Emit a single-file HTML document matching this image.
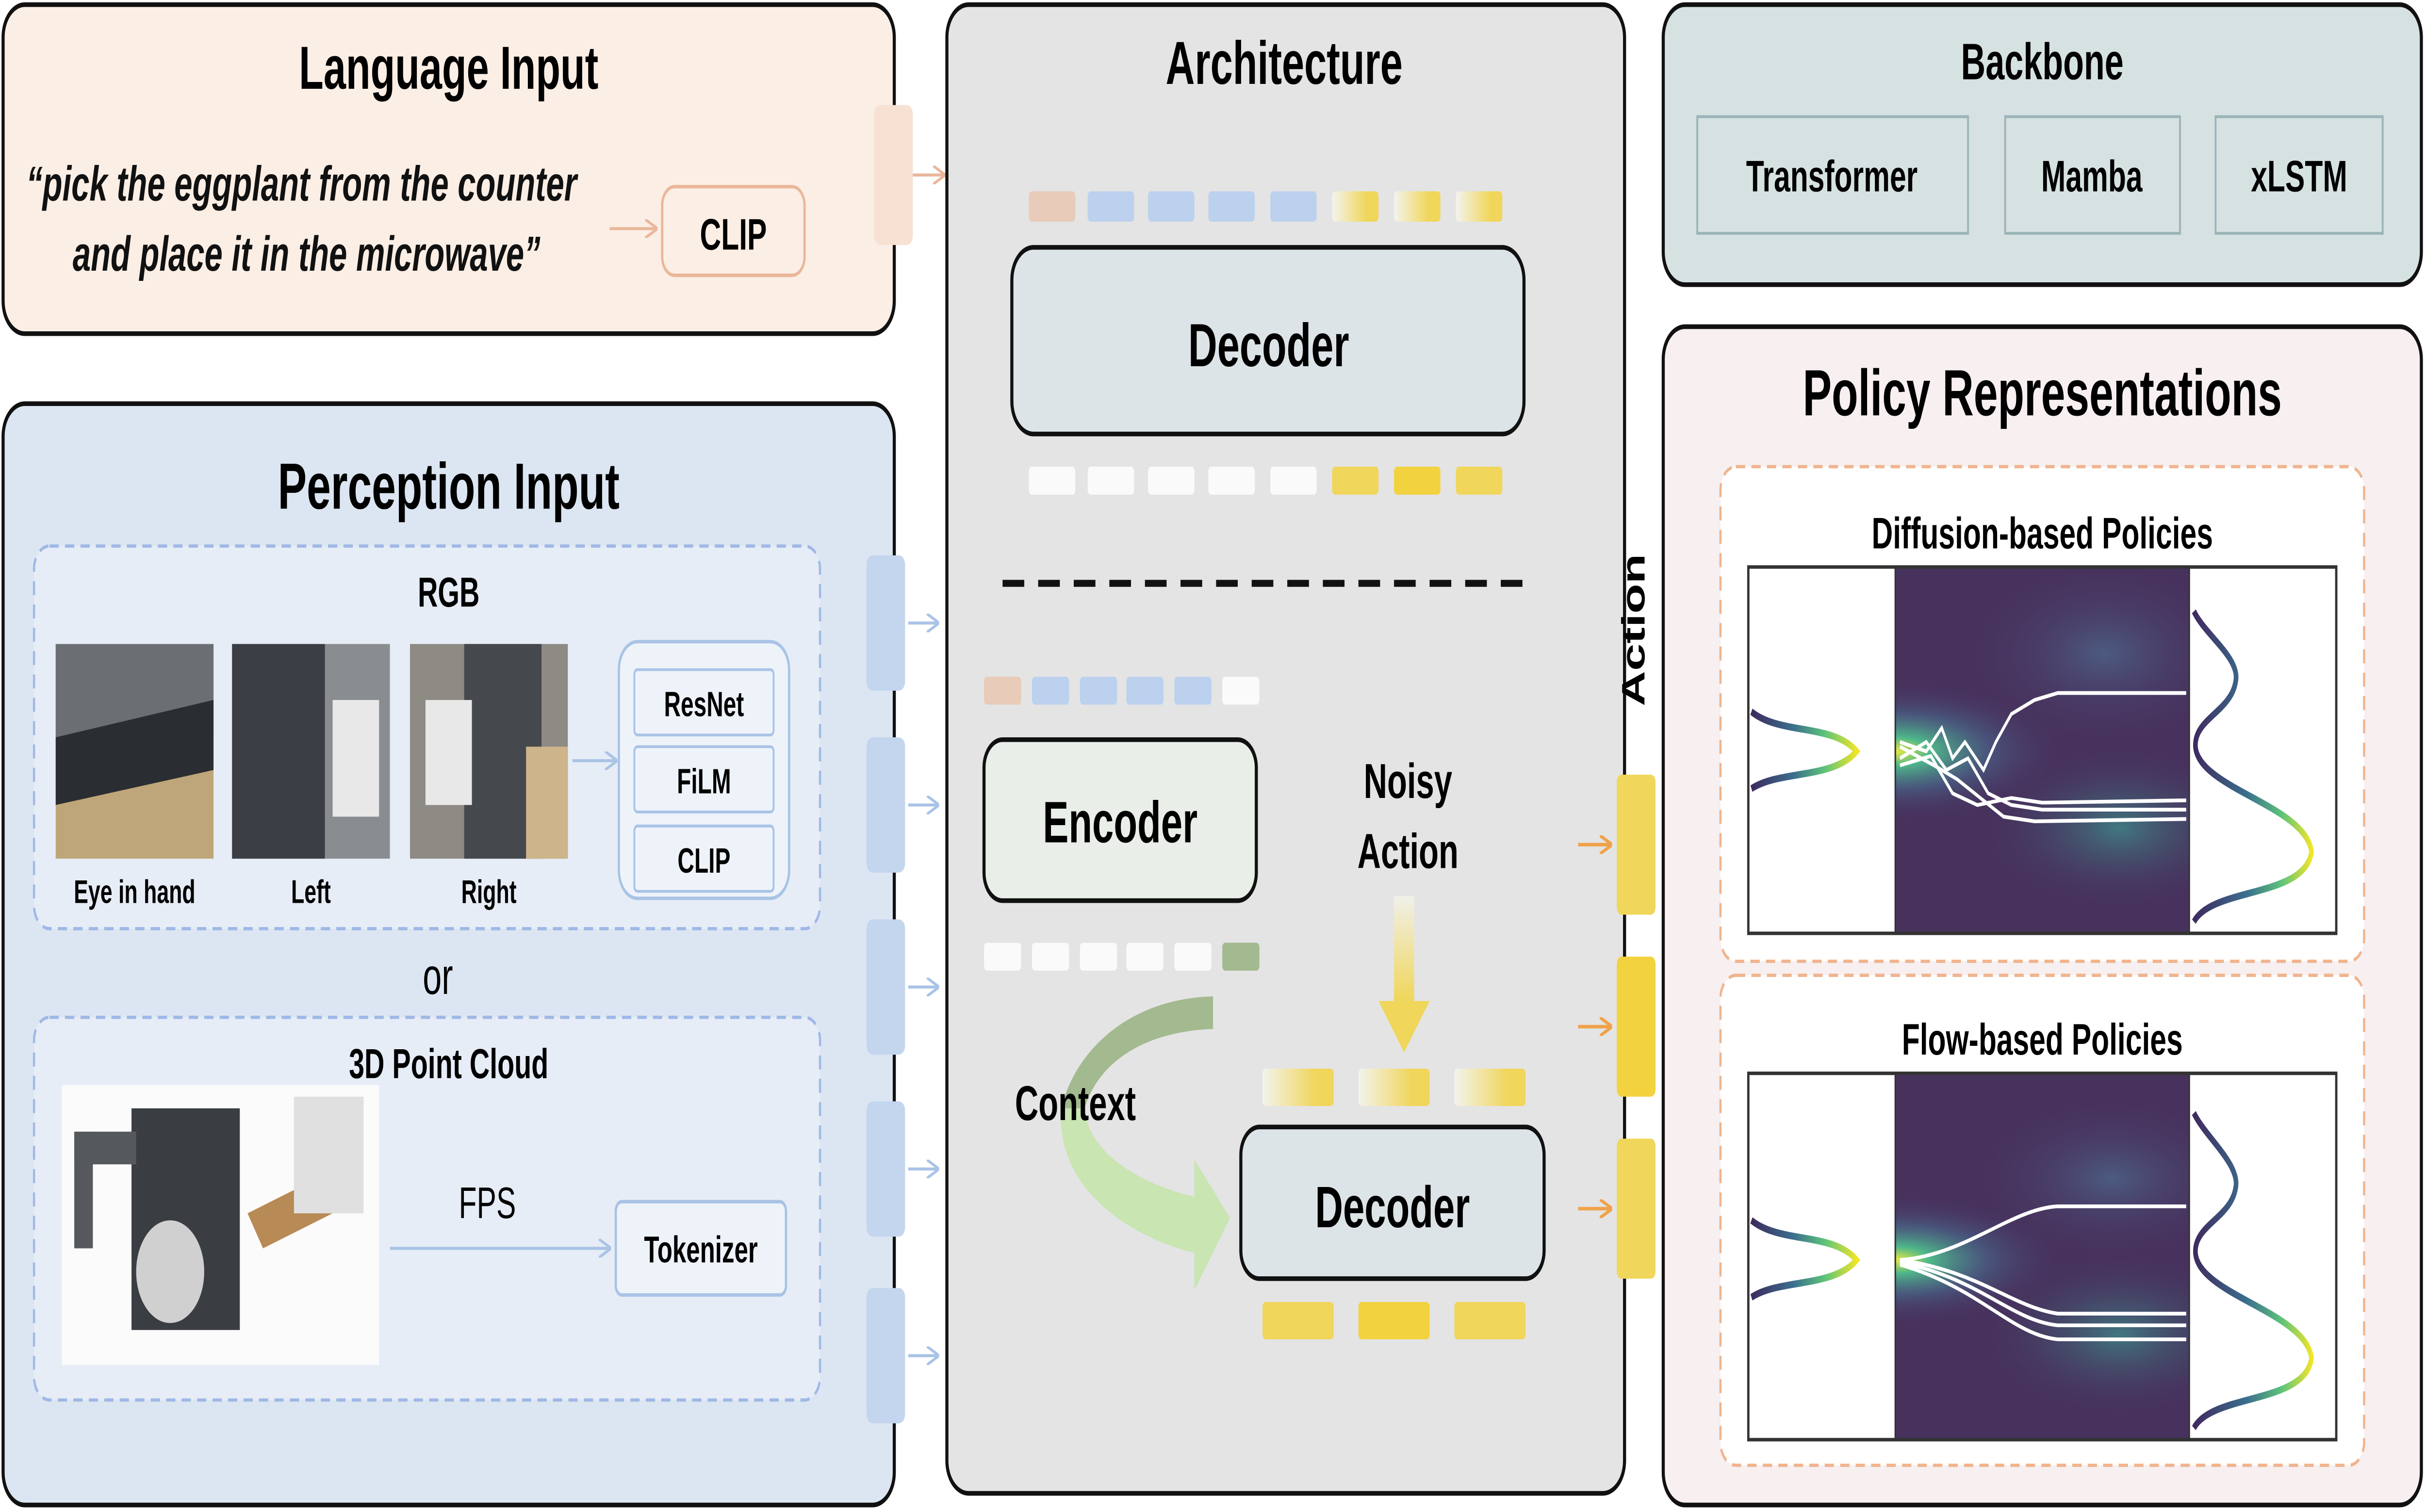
<!DOCTYPE html>
<html><head><meta charset="utf-8"><style>
html,body{margin:0;padding:0;background:#fff;width:100%;height:100%;overflow:hidden;}
svg{display:block;width:100vw;height:100vh;position:fixed;left:0;top:0;}
text{font-family:"Liberation Sans",Arial,sans-serif;}
</style></head><body>
<svg viewBox="0 0 1568 648" preserveAspectRatio="none" xmlns="http://www.w3.org/2000/svg">
<defs>
<linearGradient id="yg" x1="0" x2="1" y1="0" y2="0"><stop offset="0" stop-color="#f3f3ee"/><stop offset="0.75" stop-color="#f0d65a"/><stop offset="1" stop-color="#f0d65a"/></linearGradient>
<linearGradient id="yv" x1="0" x2="0" y1="0" y2="1"><stop offset="0" stop-color="#f0f0ea"/><stop offset="1" stop-color="#f0d65a"/></linearGradient>
<linearGradient id="vir" x1="0" x2="1" y1="0" y2="0"><stop offset="0" stop-color="#3e2a5e"/><stop offset="0.4" stop-color="#3b6f8e"/><stop offset="0.7" stop-color="#5ec47a"/><stop offset="1" stop-color="#f0e52a"/></linearGradient>
<linearGradient id="vir2" x1="0" x2="1" y1="0" y2="0"><stop offset="0" stop-color="#3e2a5e"/><stop offset="0.45" stop-color="#3b6f8e"/><stop offset="0.75" stop-color="#5ec47a"/><stop offset="1" stop-color="#f0e52a"/></linearGradient>
<radialGradient id="glow1" cx="0.5" cy="0.5" r="0.5"><stop offset="0" stop-color="#e8ea40"/><stop offset="0.2" stop-color="#4fb88a"/><stop offset="0.55" stop-color="#4a6a8e" stop-opacity="0.6"/><stop offset="1" stop-color="#47325f" stop-opacity="0"/></radialGradient>
<radialGradient id="blob" cx="0.5" cy="0.5" r="0.5"><stop offset="0" stop-color="#4f6d91" stop-opacity="0.7"/><stop offset="1" stop-color="#47325d" stop-opacity="0"/></radialGradient>
<radialGradient id="blob2" cx="0.5" cy="0.5" r="0.5"><stop offset="0" stop-color="#3f8a8a" stop-opacity="0.8"/><stop offset="1" stop-color="#47325d" stop-opacity="0"/></radialGradient>
<clipPath id="c1"><rect x="1225" y="243" width="190" height="157"/></clipPath>
<clipPath id="c2"><rect x="1225" y="460" width="190" height="157"/></clipPath>
<marker id="ab" markerWidth="8" markerHeight="8" refX="7" refY="4" orient="auto" markerUnits="userSpaceOnUse"><path d="M0,0 L8,4 L0,8" fill="none" stroke="#a9c3e6" stroke-width="1.3"/></marker>
<marker id="ao" markerWidth="8" markerHeight="8" refX="7" refY="4" orient="auto" markerUnits="userSpaceOnUse"><path d="M0,0 L8,4 L0,8" fill="none" stroke="#f0a24a" stroke-width="1.5"/></marker>
<marker id="ap" markerWidth="8" markerHeight="8" refX="7" refY="4" orient="auto" markerUnits="userSpaceOnUse"><path d="M0,0 L8,4 L0,8" fill="none" stroke="#eab79a" stroke-width="1.3"/></marker>
</defs>

<rect x="2" y="2" width="576" height="141" rx="14" fill="#fbeee5" stroke="#111" stroke-width="2"/>
<text x="290" y="38" font-size="26" font-weight="bold" text-anchor="middle">Language Input</text>
<text x="17" y="86" font-size="21" font-weight="bold" font-style="italic" fill="#111">“pick the eggplant from the counter</text>
<text x="47" y="116" font-size="21" font-weight="bold" font-style="italic" fill="#111">and place it in the microwave”</text>
<line x1="394" y1="98" x2="424" y2="98" stroke="#eab79a" stroke-width="1.3" marker-end="url(#ap)"/>
<rect x="428" y="80" width="92" height="38" rx="8" fill="#fbeee5" stroke="#eab79a" stroke-width="1.5"/>
<text x="474" y="107" font-size="19" font-weight="bold" text-anchor="middle">CLIP</text>

<rect x="2" y="173" width="576" height="472" rx="14" fill="#dce6f2" stroke="#111" stroke-width="2"/>
<text x="290" y="218" font-size="28" font-weight="bold" text-anchor="middle">Perception Input</text>
<rect x="22" y="234" width="508" height="164" rx="10" fill="#e6edf6" stroke="#a0b8e6" stroke-width="1.4" stroke-dasharray="6,4"/>
<text x="290" y="260" font-size="18" font-weight="bold" text-anchor="middle">RGB</text>
<rect x="36" y="276" width="102" height="92" fill="#bfa57a"/>
<rect x="36" y="276" width="102" height="40" fill="#6b6f74"/>
<polygon points="36,316 138,300 138,330 36,345" fill="#2a2d31"/>
<rect x="150" y="276" width="102" height="92" fill="#8a8d90"/>
<rect x="150" y="276" width="60" height="92" fill="#3b3f45"/>
<rect x="215" y="300" width="30" height="50" fill="#e8e8e8"/>
<rect x="265" y="276" width="102" height="92" fill="#8e8a84"/>
<rect x="300" y="276" width="50" height="92" fill="#45484c"/>
<rect x="275" y="300" width="30" height="45" fill="#e8e8e8"/>
<rect x="340" y="320" width="27" height="48" fill="#cdb48a"/>
<text x="87" y="387" font-size="14" font-weight="bold" text-anchor="middle">Eye in hand</text>
<text x="201" y="387" font-size="14" font-weight="bold" text-anchor="middle">Left</text>
<text x="316" y="387" font-size="14" font-weight="bold" text-anchor="middle">Right</text>
<line x1="370" y1="326" x2="398" y2="326" stroke="#a9c3e6" stroke-width="1.3" marker-end="url(#ab)"/>
<rect x="400" y="275" width="110" height="110" rx="12" fill="#eef3fa" stroke="#a9c3e6" stroke-width="1.5"/>
<rect x="410" y="287" width="90" height="28" rx="2" fill="#eef3fa" stroke="#a9c3e6" stroke-width="1.2"/>
<text x="455" y="307" font-size="15" font-weight="bold" text-anchor="middle">ResNet</text>
<rect x="410" y="320" width="90" height="28" rx="2" fill="#eef3fa" stroke="#a9c3e6" stroke-width="1.2"/>
<text x="455" y="340" font-size="15" font-weight="bold" text-anchor="middle">FiLM</text>
<rect x="410" y="354" width="90" height="28" rx="2" fill="#eef3fa" stroke="#a9c3e6" stroke-width="1.2"/>
<text x="455" y="374" font-size="15" font-weight="bold" text-anchor="middle">CLIP</text>
<text x="283" y="426" font-size="22" text-anchor="middle">or</text>
<rect x="22" y="436" width="508" height="164" rx="10" fill="#e6edf6" stroke="#a0b8e6" stroke-width="1.4" stroke-dasharray="6,4"/>
<text x="290" y="462" font-size="18" font-weight="bold" text-anchor="middle">3D Point Cloud</text>
<rect x="40" y="465" width="205" height="120" fill="#fbfbfb"/>
<rect x="85" y="475" width="70" height="95" fill="#3a3d42"/>
<rect x="48" y="485" width="40" height="14" fill="#55585c"/>
<rect x="48" y="485" width="12" height="50" fill="#55585c"/>
<polygon points="160,520 205,505 215,520 170,535" fill="#b88a55"/>
<ellipse cx="110" cy="545" rx="22" ry="22" fill="#d0d0d0"/>
<rect x="190" y="470" width="45" height="50" fill="#e0e0e0"/>
<text x="315" y="522" font-size="19" text-anchor="middle">FPS</text>
<line x1="252" y1="535" x2="394" y2="535" stroke="#a9c3e6" stroke-width="1.3" marker-end="url(#ab)"/>
<rect x="398" y="515" width="110" height="40" rx="4" fill="#eef3fa" stroke="#a9c3e6" stroke-width="1.5"/>
<text x="453" y="541" font-size="16" font-weight="bold" text-anchor="middle">Tokenizer</text>

<rect x="565" y="45" width="25" height="60" rx="4" fill="#f7e1d3"/>
<line x1="590" y1="75" x2="610" y2="75" stroke="#eab79a" stroke-width="1.3" marker-end="url(#ap)"/>
<g fill="#c4d6ee">
<rect x="560" y="238" width="25" height="58" rx="4"/>
<rect x="560" y="316" width="25" height="58" rx="4"/>
<rect x="560" y="394" width="25" height="58" rx="4"/>
<rect x="560" y="472" width="25" height="58" rx="4"/>
<rect x="560" y="552" width="25" height="58" rx="4"/>
</g>
<g stroke="#a9c3e6" stroke-width="1.3" marker-end="url(#ab)">
<line x1="587" y1="267" x2="606" y2="267"/>
<line x1="587" y1="345" x2="606" y2="345"/>
<line x1="587" y1="423" x2="606" y2="423"/>
<line x1="587" y1="501" x2="606" y2="501"/>
<line x1="587" y1="581" x2="606" y2="581"/>
</g>

<rect x="612" y="2" width="438" height="638" rx="14" fill="#e4e4e4" stroke="#111" stroke-width="2"/>
<text x="830" y="36" font-size="26" font-weight="bold" text-anchor="middle">Architecture</text>
<rect x="665" y="82" width="30" height="13" rx="2" fill="#e8cbb9"/>
<g fill="#bcd1ee">
<rect x="703" y="82" width="30" height="13" rx="2"/><rect x="742" y="82" width="30" height="13" rx="2"/>
<rect x="781" y="82" width="30" height="13" rx="2"/><rect x="821" y="82" width="30" height="13" rx="2"/></g>
<rect x="861" y="82" width="30" height="13" rx="2" fill="url(#yg)"/>
<rect x="901" y="82" width="30" height="13" rx="2" fill="url(#yg)"/>
<rect x="941" y="82" width="30" height="13" rx="2" fill="url(#yg)"/>
<rect x="654" y="106" width="331" height="80" rx="14" fill="#dce4e8" stroke="#111" stroke-width="2"/>
<text x="820" y="157" font-size="26" font-weight="bold" text-anchor="middle">Decoder</text>
<g fill="#fafafa">
<rect x="665" y="200" width="30" height="12" rx="2"/><rect x="703" y="200" width="30" height="12" rx="2"/>
<rect x="742" y="200" width="30" height="12" rx="2"/><rect x="781" y="200" width="30" height="12" rx="2"/>
<rect x="821" y="200" width="30" height="12" rx="2"/></g>
<g fill="#f0d65a">
<rect x="861" y="200" width="30" height="12" rx="2"/><rect x="901" y="200" width="30" height="12" rx="2" fill="#f2d23e"/>
<rect x="941" y="200" width="30" height="12" rx="2"/></g>
<line x1="648" y1="250" x2="992" y2="250" stroke="#111" stroke-width="3" stroke-dasharray="14,9"/>

<rect x="636" y="290" width="24" height="12" rx="2" fill="#e8cbb9"/>
<g fill="#bcd1ee">
<rect x="667" y="290" width="24" height="12" rx="2"/><rect x="698" y="290" width="24" height="12" rx="2"/>
<rect x="728" y="290" width="24" height="12" rx="2"/><rect x="759" y="290" width="24" height="12" rx="2"/></g>
<rect x="790" y="290" width="24" height="12" rx="2" fill="#fafafa"/>
<rect x="636" y="317" width="176" height="69" rx="12" fill="#e9eee9" stroke="#111" stroke-width="2"/>
<text x="724" y="361" font-size="25" font-weight="bold" text-anchor="middle">Encoder</text>
<g fill="#fafafa">
<rect x="636" y="404" width="24" height="12" rx="2"/><rect x="667" y="404" width="24" height="12" rx="2"/>
<rect x="698" y="404" width="24" height="12" rx="2"/><rect x="728" y="404" width="24" height="12" rx="2"/>
<rect x="759" y="404" width="24" height="12" rx="2"/></g>
<rect x="790" y="404" width="24" height="12" rx="2" fill="#a3b98f"/>
<path d="M784,427 C730,428 695,450 686,475 L701,475 C710,455 740,442 784,441 Z" fill="#a3b98f"/>
<path d="M686,475 C682,505 720,528 772,537 L772,553 L795,522 L772,497 L772,513 C730,506 703,492 701,475 Z" fill="#c9e5b2"/>
<text x="656" y="480" font-size="21" font-weight="bold">Context</text>
<text x="910" y="342" font-size="21" font-weight="bold" text-anchor="middle">Noisy</text>
<text x="910" y="372" font-size="21" font-weight="bold" text-anchor="middle">Action</text>
<rect x="901" y="384" width="13" height="45" fill="url(#yv)"/>
<polygon points="891,429 924,429 907.5,451" fill="#f0d65a"/>
<rect x="816" y="458" width="46" height="16" rx="2" fill="url(#yg)"/>
<rect x="878" y="458" width="46" height="16" rx="2" fill="url(#yg)"/>
<rect x="940" y="458" width="46" height="16" rx="2" fill="url(#yg)"/>
<rect x="802" y="483" width="196" height="65" rx="12" fill="#dce4e8" stroke="#111" stroke-width="2"/>
<text x="900" y="526" font-size="25" font-weight="bold" text-anchor="middle">Decoder</text>
<rect x="816" y="558" width="46" height="16" rx="2" fill="#f0d65a"/>
<rect x="878" y="558" width="46" height="16" rx="2" fill="#f2d23e"/>
<rect x="940" y="558" width="46" height="16" rx="2" fill="#f0d65a"/>

<text transform="translate(1063,270) rotate(-90)" font-size="21" font-weight="bold" text-anchor="middle">Action</text>
<g stroke="#f0a24a" stroke-width="1.5" marker-end="url(#ao)">
<line x1="1020" y1="362" x2="1041" y2="362"/><line x1="1020" y1="440" x2="1041" y2="440"/><line x1="1020" y1="518" x2="1041" y2="518"/></g>
<rect x="1045" y="332" width="25" height="60" rx="3" fill="#f0d65a"/>
<rect x="1045" y="410" width="25" height="60" rx="3" fill="#f2d23e"/>
<rect x="1045" y="488" width="25" height="60" rx="3" fill="#f0d65a"/>

<rect x="1075" y="2" width="490" height="120" rx="14" fill="#d6e1e2" stroke="#111" stroke-width="2"/>
<text x="1320" y="34" font-size="22" font-weight="bold" text-anchor="middle">Backbone</text>
<g fill="none" stroke="#9bb4b7" stroke-width="1.2">
<rect x="1097" y="50" width="175" height="50"/><rect x="1296" y="50" width="113" height="50"/><rect x="1432" y="50" width="108" height="50"/></g>
<text x="1184" y="82" font-size="19" font-weight="bold" text-anchor="middle">Transformer</text>
<text x="1352" y="82" font-size="19" font-weight="bold" text-anchor="middle">Mamba</text>
<text x="1486" y="82" font-size="19" font-weight="bold" text-anchor="middle">xLSTM</text>

<rect x="1075" y="140" width="490" height="505" rx="14" fill="#f7eff0" stroke="#111" stroke-width="2"/>
<text x="1320" y="178" font-size="28" font-weight="bold" text-anchor="middle">Policy Representations</text>
<rect x="1112" y="200" width="416" height="212" rx="10" fill="#fff" stroke="#f0b48e" stroke-width="1.4" stroke-dasharray="6,4"/>
<text x="1320" y="235" font-size="19" font-weight="bold" text-anchor="middle">Diffusion-based Policies</text>
<rect x="1112" y="418" width="416" height="210" rx="10" fill="#fff" stroke="#f0b48e" stroke-width="1.4" stroke-dasharray="6,4"/>
<text x="1320" y="452" font-size="19" font-weight="bold" text-anchor="middle">Flow-based Policies</text>

<g>
<rect x="1225" y="243" width="190" height="157" fill="#47325d"/>
<g clip-path="url(#c1)">
<ellipse cx="1360" cy="280" rx="90" ry="40" fill="url(#blob)"/>
<ellipse cx="1370" cy="355" rx="90" ry="35" fill="url(#blob2)"/>
<ellipse cx="1225" cy="322" rx="110" ry="30" fill="url(#glow1)"/>
</g>
<rect x="1130" y="243" width="380" height="157" fill="none" stroke="#333" stroke-width="1.5"/>
<line x1="1225" y1="243" x2="1225" y2="400" stroke="#333"/>
<line x1="1415" y1="243" x2="1415" y2="400" stroke="#333"/>
<path d="M1132,305 C1150,315 1185,310 1200,322 C1185,334 1150,330 1132,338" fill="none" stroke="url(#vir)" stroke-width="3"/>
<path d="M1418,262 C1425,272 1448,282 1445,292 C1442,305 1418,308 1419,320 C1421,338 1490,345 1494,365 C1490,385 1430,380 1418,395" fill="none" stroke="url(#vir2)" stroke-width="3"/>
<g fill="none" stroke="#fff" stroke-width="1.6">
<path d="M1228,318 L1245,322 L1255,312 L1262,325 L1270,318 L1282,330 L1290,318 L1300,306 L1315,300 L1330,297 L1413,297"/>
<path d="M1228,325 L1245,318 L1258,330 L1272,325 L1285,340 L1300,345 L1320,347 L1413,347"/>
<path d="M1228,320 L1250,328 L1265,334 L1280,342 L1295,350 L1315,352 L1413,351"/>
<path d="M1228,328 L1248,324 L1262,340 L1278,345 L1300,342 L1320,344 L1413,343"/>
</g>
</g>
<g>
<rect x="1225" y="460" width="190" height="157" fill="#47325d"/>
<g clip-path="url(#c2)">
<ellipse cx="1365" cy="505" rx="90" ry="35" fill="url(#blob)"/>
<ellipse cx="1370" cy="572" rx="90" ry="35" fill="url(#blob2)"/>
<ellipse cx="1225" cy="540" rx="110" ry="28" fill="url(#glow1)"/>
</g>
<rect x="1130" y="460" width="380" height="157" fill="none" stroke="#333" stroke-width="1.5"/>
<line x1="1225" y1="460" x2="1225" y2="617" stroke="#333"/>
<line x1="1415" y1="460" x2="1415" y2="617" stroke="#333"/>
<path d="M1132,523 C1150,533 1185,528 1200,540 C1185,552 1150,548 1132,556" fill="none" stroke="url(#vir)" stroke-width="3"/>
<path d="M1418,477 C1425,487 1448,499 1445,509 C1442,522 1418,525 1419,537 C1421,555 1490,562 1494,582 C1490,602 1430,597 1418,612" fill="none" stroke="url(#vir2)" stroke-width="3"/>
<g fill="none" stroke="#fff" stroke-width="1.6">
<path d="M1228,540 C1270,538 1300,518 1330,517 L1413,517"/>
<path d="M1228,540 C1280,545 1300,560 1330,563 L1413,563"/>
<path d="M1228,541 C1280,548 1300,566 1330,568 L1413,568"/>
<path d="M1228,542 C1280,552 1300,572 1330,574 L1413,574"/>
</g>
</g>
</svg>
</body></html>
